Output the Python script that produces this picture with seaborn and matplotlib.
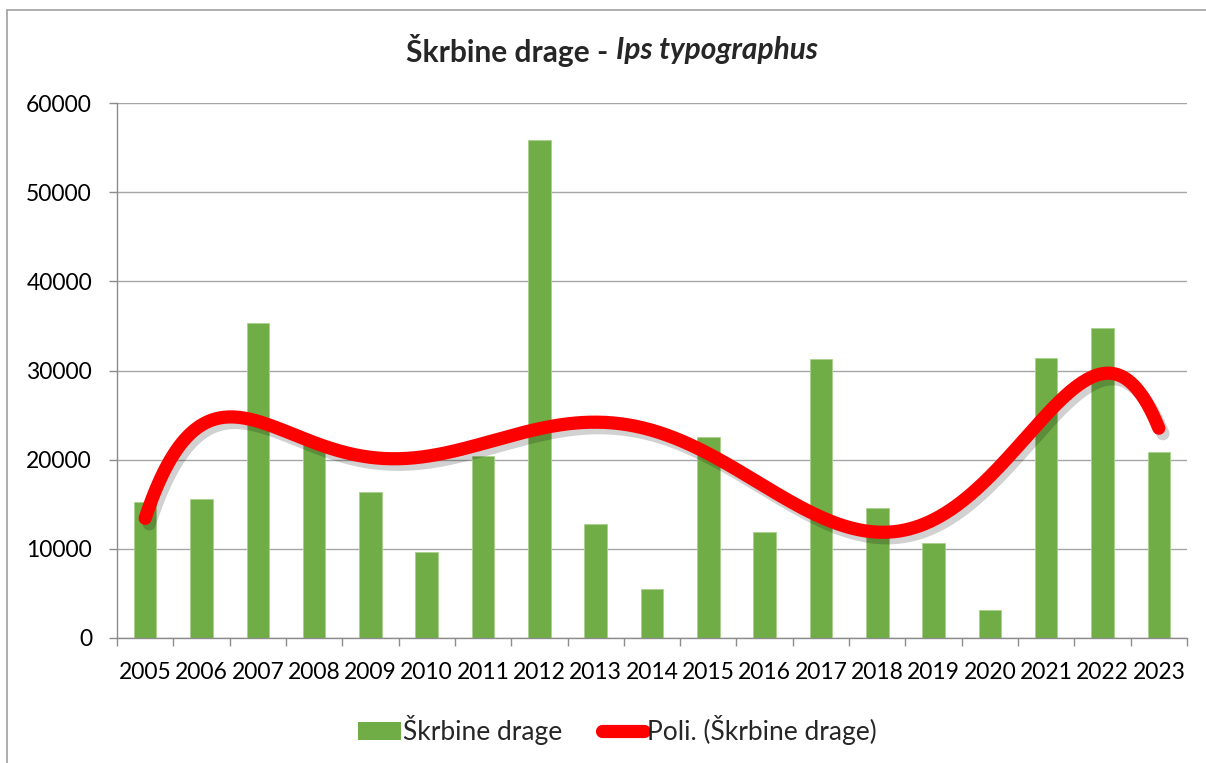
import numpy as np
import pandas as pd
import matplotlib
matplotlib.use("Agg")
import matplotlib.pyplot as plt
import matplotlib.patheffects as pe
from matplotlib.patches import Patch
from matplotlib.lines import Line2D
from matplotlib.ticker import FixedLocator
import seaborn as sns

years = [str(y) for y in range(2005, 2024)]
damage = [15300, 15600, 35350, 21800, 16400, 9600, 20450, 55850, 12750, 5550,
          22550, 11850, 31250, 14600, 10600, 3100, 31350, 34800, 20900]
series_name = "Škrbine drage"
trend_name = "Poli. (Škrbine drage)"
title_main = "Škrbine drage - "
title_species = "Ips typographus"
y_ticks = [0, 10000, 20000, 30000, 40000, 50000, 60000]

BAR = "#70ad47"
RED = "#ff0000"
GRID = "#a6a6a6"

sns.set_theme(style="white")
plt.rcParams["font.family"] = ["Lato", "DejaVu Sans"]

df = pd.DataFrame({"Year": years, "Value": damage})

# Excel style 6th order polynomial trendline (x = 1..n)
xi = np.arange(1, len(damage) + 1)
coef = np.polyfit(xi, damage, 6)
xs = np.linspace(1, len(damage), 400)
trend = pd.DataFrame({"pos": xs - 1, "fit": np.polyval(coef, xs)})

fig = plt.figure(figsize=(12.06, 7.63), dpi=100)
ax = fig.add_axes([117 / 1206, 125 / 763, 1070 / 1206, 535 / 763])

sns.barplot(data=df, x="Year", y="Value", color=BAR, width=0.4, saturation=1,
            edgecolor="#a9d18e", linewidth=0.6, ax=ax, zorder=2)
sns.lineplot(data=trend, x="pos", y="fit", color=RED, lw=9.5, ax=ax, zorder=3)
ln = ax.lines[-1]
ln.set_solid_capstyle("round")
ln.set_path_effects([pe.SimpleLineShadow(offset=(3, -4), shadow_color="black", alpha=0.18),
                     pe.Normal()])

ax.set_xlim(-0.5, len(years) - 0.5)
ax.set_ylim(0, 60000)
ax.set_yticks(y_ticks)
ax.set_xlabel("")
ax.set_ylabel("")
ax.grid(axis="y", color=GRID, lw=1, zorder=0)
ax.set_axisbelow(True)
for s in ["top", "right"]:
    ax.spines[s].set_visible(False)
for s in ["left", "bottom"]:
    ax.spines[s].set_color("#8c8c8c")
    ax.spines[s].set_linewidth(1)

ax.tick_params(axis="y", length=6, width=1, color="#8c8c8c", pad=12, labelsize=16.5,
               labelcolor="black", left=True)
ax.tick_params(axis="x", which="major", length=0, pad=17, labelsize=16.5, labelcolor="black")
ax.xaxis.set_minor_locator(FixedLocator(np.arange(-0.5, len(years), 1.0)))
ax.tick_params(axis="x", which="minor", length=6, width=1, color="#8c8c8c", bottom=True)

# title with italic species name
fig.canvas.draw()
r = fig.canvas.get_renderer()
t1 = fig.text(0, 0.934, title_main, fontsize=21.5, fontweight="bold", va="center")
t2 = fig.text(0, 0.934, title_species, fontsize=21.5, fontweight="bold",
              fontstyle="italic", va="center")
w1 = t1.get_window_extent(r).width
w2 = t2.get_window_extent(r).width
x0 = 612 - (w1 + w2) / 2
t1.set_x(x0 / 1206)
t2.set_x((x0 + w1) / 1206)

handles = [Patch(facecolor=BAR, edgecolor="none"),
           Line2D([0], [0], color=RED, lw=9.5, solid_capstyle="round")]
fig.legend(handles, [series_name, trend_name], loc="center", bbox_to_anchor=(0.512, 0.043),
           ncol=2, frameon=False, fontsize=19, handlelength=1.6, handleheight=0.7,
           handletextpad=0.1, columnspacing=1.5)

# chart area border (left and top visible)
fig.add_artist(Line2D([7 / 1206, 7 / 1206], [0, 1 - 10 / 763], color="#a0a0a0", lw=1.2,
                      transform=fig.transFigure))
fig.add_artist(Line2D([7 / 1206, 1], [1 - 10 / 763, 1 - 10 / 763], color="#a0a0a0", lw=1.2,
                      transform=fig.transFigure))

fig.savefig("out.png", dpi=100)
